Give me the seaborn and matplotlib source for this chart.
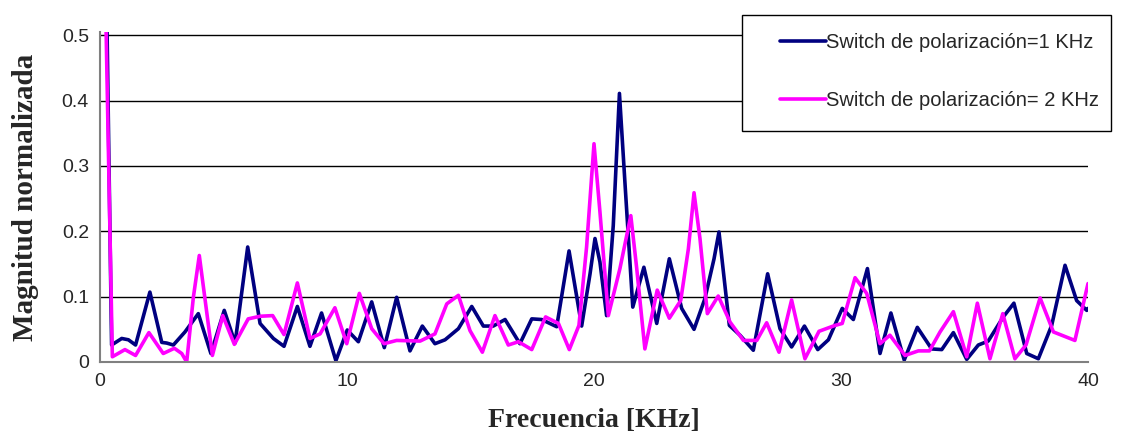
import numpy as np
import pandas as pd
import matplotlib
matplotlib.use("Agg")
import matplotlib.pyplot as plt
from matplotlib.patches import Rectangle
import seaborn as sns

# Switch de polarizacion = 1 KHz
freq_1k = [0.25, 0.47, 0.88, 1.15, 1.44, 2.02, 2.50, 2.70, 2.97, 3.44, 3.98, 4.49, 5.03, 5.47,
           5.98, 6.48, 7.02, 7.45, 7.99, 8.50, 8.97, 9.55, 10.01, 10.46, 11.00, 11.51, 12.01,
           12.55, 13.05, 13.56, 13.97, 14.51, 15.05, 15.52, 15.92, 16.40, 17.00, 17.48, 17.88,
           18.49, 18.99, 19.50, 19.84, 20.04, 20.24, 20.51, 20.78, 21.03, 21.26, 21.57, 22.02,
           22.54, 23.05, 23.55, 24.05, 24.49, 24.86, 25.06, 25.48, 25.91, 26.45, 27.03, 27.53,
           28.00, 28.52, 29.06, 29.49, 30.05, 30.50, 31.07, 31.58, 32.02, 32.56, 33.09, 33.67,
           34.08, 34.55, 35.09, 35.56, 35.96, 36.57, 37.00, 37.52, 37.99, 38.53, 39.07, 39.54,
           39.95, 40.00]
mag_1k = [0.60, 0.026, 0.036, 0.034, 0.026, 0.107, 0.030, 0.029, 0.026, 0.046, 0.074, 0.013, 0.079,
          0.029, 0.176, 0.059, 0.036, 0.024, 0.085, 0.024, 0.075, 0.002, 0.049, 0.031, 0.092,
          0.022, 0.099, 0.017, 0.055, 0.028, 0.034, 0.051, 0.085, 0.055, 0.055, 0.065, 0.028,
          0.066, 0.065, 0.054, 0.170, 0.055, 0.135, 0.189, 0.153, 0.071, 0.209, 0.411, 0.270,
          0.084, 0.145, 0.059, 0.158, 0.082, 0.050, 0.097, 0.158, 0.199, 0.056, 0.041, 0.018,
          0.135, 0.051, 0.023, 0.055, 0.019, 0.034, 0.082, 0.065, 0.143, 0.013, 0.075, 0.003,
          0.053, 0.020, 0.019, 0.045, 0.004, 0.026, 0.032, 0.069, 0.090, 0.013, 0.005, 0.056,
          0.148, 0.094, 0.079, 0.082]

# Switch de polarizacion = 2 KHz
freq_2k = [0.20, 0.50, 1.01, 1.44, 1.98, 2.56, 3.01, 3.31, 3.51, 3.78, 4.02, 4.55, 4.97, 5.44,
           6.00, 6.48, 6.99, 7.45, 7.99, 8.50, 8.91, 9.51, 9.99, 10.50, 11.00, 11.50, 12.01,
           12.96, 13.56, 14.04, 14.51, 14.98, 15.48, 15.99, 16.53, 16.94, 17.48, 18.04, 18.56,
           19.00, 19.39, 19.70, 20.00, 20.24, 20.58, 21.05, 21.49, 21.73, 22.06, 22.56, 23.05,
           23.51, 23.82, 24.05, 24.29, 24.59, 25.03, 25.51, 26.05, 26.59, 26.99, 27.49, 28.00,
           28.54, 29.11, 29.76, 30.05, 30.57, 31.04, 31.58, 31.98, 32.59, 33.13, 33.58, 34.01,
           34.55, 35.09, 35.52, 36.03, 36.55, 37.04, 37.49, 38.06, 38.60, 39.47, 40.00]
mag_2k = [0.60, 0.008, 0.019, 0.010, 0.045, 0.013, 0.021, 0.013, 0.000, 0.099, 0.163, 0.010, 0.071,
          0.027, 0.066, 0.070, 0.071, 0.042, 0.121, 0.036, 0.043, 0.083, 0.028, 0.105, 0.051,
          0.028, 0.033, 0.032, 0.043, 0.089, 0.102, 0.048, 0.015, 0.071, 0.026, 0.031, 0.019,
          0.069, 0.059, 0.019, 0.056, 0.176, 0.334, 0.230, 0.071, 0.143, 0.224, 0.143, 0.020,
          0.110, 0.067, 0.094, 0.173, 0.259, 0.189, 0.074, 0.101, 0.061, 0.033, 0.033, 0.060,
          0.015, 0.095, 0.005, 0.047, 0.056, 0.059, 0.129, 0.105, 0.028, 0.041, 0.010, 0.017,
          0.017, 0.046, 0.077, 0.008, 0.090, 0.005, 0.074, 0.005, 0.026, 0.098, 0.046, 0.033,
          0.120]

label_1k = "Switch de polarización=1 KHz"
label_2k = "Switch de polarización= 2 KHz"
x_ticks = [0, 10, 20, 30, 40]
y_ticks = [0, 0.1, 0.2, 0.3, 0.4, 0.5]
y_tick_labels = ["0", "0.1", "0.2", "0.3", "0.4", "0.5"]

sns.set_style("white")
plt.rcParams['font.family'] = ['Liberation Sans', 'DejaVu Sans']

W, H = 1136, 437
fig = plt.figure(figsize=(W / 100, H / 100), dpi=100)
ax = fig.add_axes([100 / W, 1 - 362 / H, 988 / W, (362 - 32) / H])

sns.lineplot(x=freq_1k, y=mag_1k, ax=ax, color="#000080", linewidth=2.6,
             sort=False, estimator=None, label=label_1k, legend=False)
sns.lineplot(x=freq_2k, y=mag_2k, ax=ax, color="#FF00FF", linewidth=2.6,
             sort=False, estimator=None, label=label_2k, legend=False)

ax.set_xlim(0, 40)
ax.set_ylim(0, 0.505)
ax.set_xticks(x_ticks)
ax.set_xticklabels([str(t) for t in x_ticks])
ax.set_yticks(y_ticks)
ax.set_yticklabels(y_tick_labels)
ax.yaxis.grid(True, color="black", linewidth=1)
ax.xaxis.grid(False)
ax.set_axisbelow(True)

for s in ["top", "right"]:
    ax.spines[s].set_visible(False)
for s in ["left", "bottom"]:
    ax.spines[s].set_color("#808080")
    ax.spines[s].set_linewidth(1.5)
ax.tick_params(axis="both", which="major", direction="out", length=5, width=1,
               color="#808080", labelsize=14, pad=3)

ax.set_xlabel("Frecuencia [KHz]", fontsize=20, fontweight="bold",
              family=["Liberation Serif", "DejaVu Serif"], labelpad=13)
ax.set_ylabel("Magnitud normalizada", fontsize=21, fontweight="bold",
              family=["Liberation Serif", "DejaVu Serif"], labelpad=16)

# legend box drawn as a white framed rectangle over the plot
box = Rectangle((742 / W, 1 - 131 / H), (1111 - 742) / W, (131 - 15) / H,
                transform=fig.transFigure, facecolor="white", edgecolor="black",
                linewidth=1, zorder=5)
fig.add_artist(box)

handles, labels = ax.get_legend_handles_labels()
leg = fig.legend(handles, labels, loc="upper left", bbox_to_anchor=(780 / W, 1 - 33 / H),
                 fontsize=14.5, frameon=False, handlelength=2.3, handletextpad=0.0,
                 labelspacing=1.95, borderpad=0, borderaxespad=0)
leg.set_zorder(6)

fig.savefig("out.png", dpi=100)
